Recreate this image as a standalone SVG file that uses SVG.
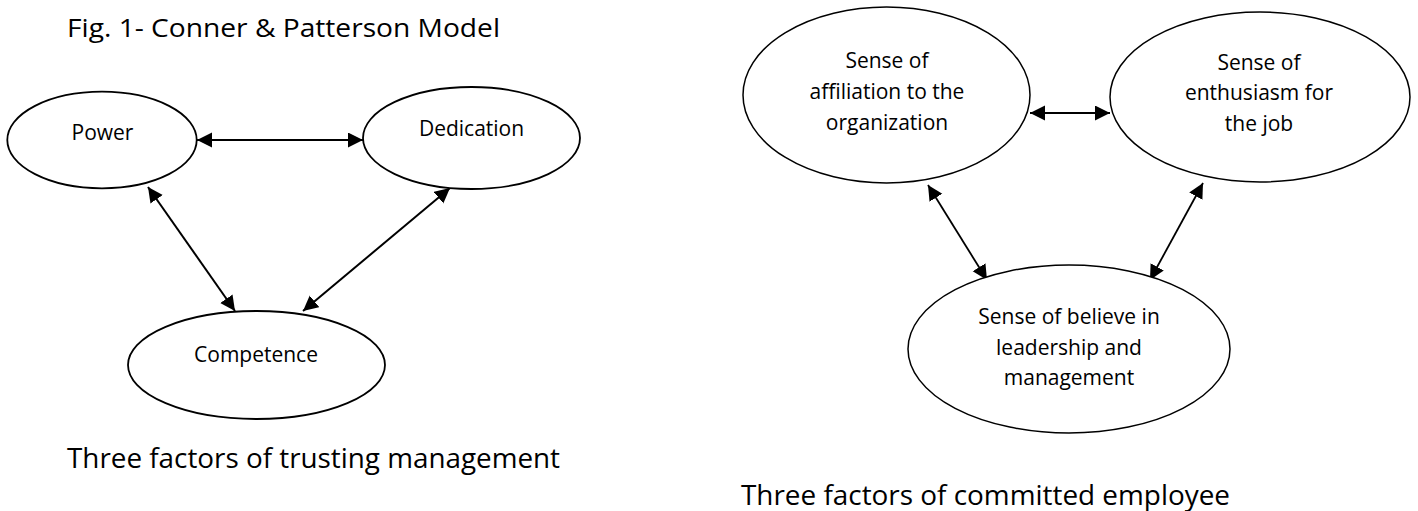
<svg xmlns="http://www.w3.org/2000/svg" width="1418" height="511" viewBox="0 0 1418 511">
<style>
.bg{fill:#fff}
.node{fill:#fff;stroke:#000;stroke-width:1.8}
.node2{fill:#fff;stroke:#000;stroke-width:1.5}
.lbl{font-family:"Open Sans","Liberation Sans",sans-serif;font-size:21px;fill:#000;text-anchor:middle}
.cap{font-family:"Open Sans","Liberation Sans",sans-serif;fill:#000}
.edge{fill:none;stroke:#000;stroke-width:2;marker-start:url(#ah);marker-end:url(#ah)}
.edge2{fill:none;stroke:#000;stroke-width:1.8;marker-start:url(#ah);marker-end:url(#ah)}
</style>
<defs>
<marker id="ah" markerUnits="userSpaceOnUse" markerWidth="16" markerHeight="16" refX="15" refY="7.5" orient="auto-start-reverse">
<path d="M0,0 L15,7.5 L0,15 Z" fill="#000"/>
</marker>
</defs>
<rect class="bg" x="0" y="0" width="1418" height="511"/>
<text id="title" class="cap" x="67" y="37" font-size="25" textLength="433" lengthAdjust="spacingAndGlyphs">Fig. 1- Conner &amp; Patterson Model</text>
<g id="connectors">
<path class="edge" d="M197,140 L363,140"/>
<path class="edge" d="M148,187 L235,311"/>
<path class="edge" d="M450,188 L303,311"/>
<path class="edge2" d="M1030,113 L1110,113"/>
<path class="edge2" d="M928,185 L987,280"/>
<path class="edge2" d="M1203,183 L1150,280"/>
</g>
<g id="power">
<ellipse class="node" cx="102" cy="140" rx="94.7" ry="48.3"/>
<text class="lbl" x="102.5" y="140">Power</text>
</g>
<g id="dedication">
<ellipse class="node" cx="471.5" cy="138" rx="108.5" ry="51"/>
<text class="lbl" x="471.5" y="136">Dedication</text>
</g>
<g id="competence">
<ellipse class="node" cx="256.5" cy="365" rx="128.5" ry="54"/>
<text class="lbl" x="256" y="362">Competence</text>
</g>
<g id="affiliation">
<ellipse class="node2" cx="886.5" cy="95" rx="143.5" ry="88"/>
<text class="lbl" x="887" y="68">Sense of</text>
<text class="lbl" x="887" y="99">affiliation to the</text>
<text class="lbl" x="887" y="130">organization</text>
</g>
<g id="enthusiasm">
<ellipse class="node2" cx="1260" cy="97" rx="150" ry="85"/>
<text class="lbl" x="1259" y="70">Sense of</text>
<text class="lbl" x="1259" y="100">enthusiasm for</text>
<text class="lbl" x="1259" y="131">the job</text>
</g>
<g id="leadership">
<ellipse class="node2" cx="1069" cy="349" rx="161" ry="84"/>
<text class="lbl" x="1069" y="324">Sense of believe in</text>
<text class="lbl" x="1069" y="355">leadership and</text>
<text class="lbl" x="1069" y="385">management</text>
</g>
<text id="caption-left" class="cap" x="67" y="468" font-size="28" textLength="493" lengthAdjust="spacingAndGlyphs">Three factors of trusting management</text>
<text id="caption-right" class="cap" x="741" y="505" font-size="28" textLength="489" lengthAdjust="spacingAndGlyphs">Three factors of committed employee</text>
</svg>
